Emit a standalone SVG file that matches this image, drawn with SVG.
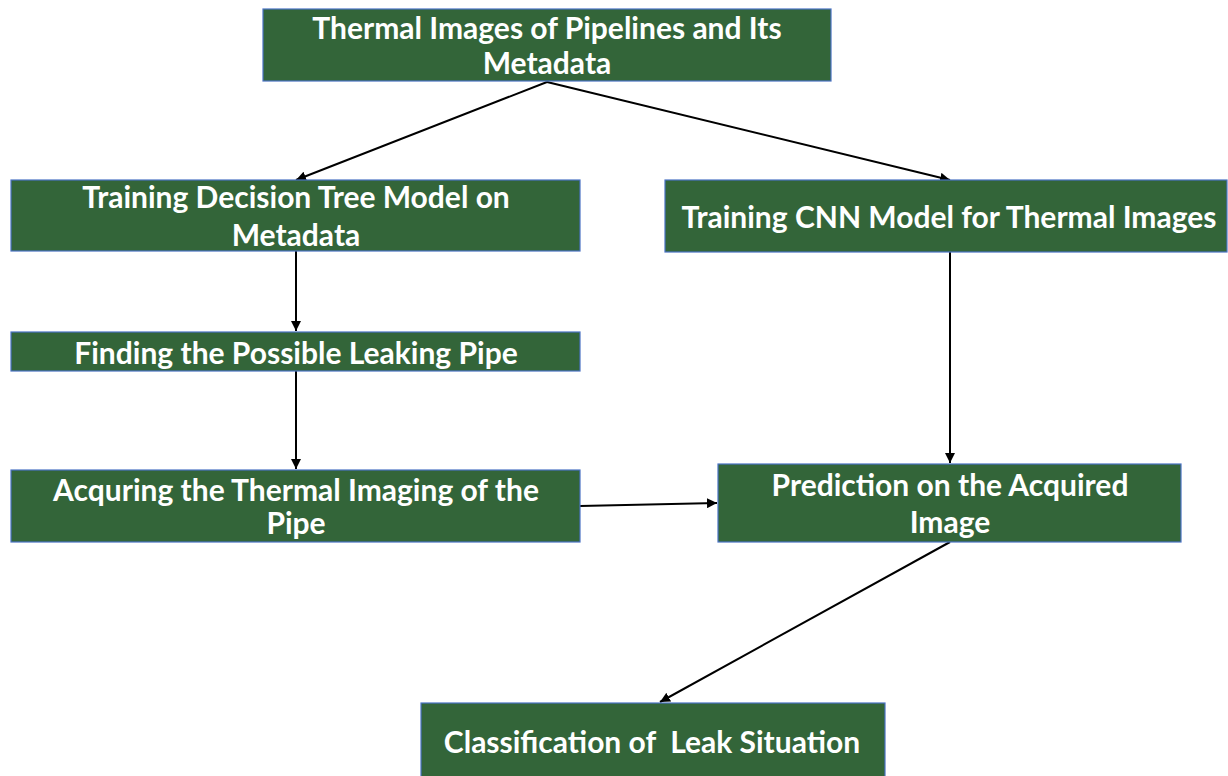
<svg xmlns="http://www.w3.org/2000/svg" width="1228" height="776" viewBox="0 0 1228 776">
<style>
.box{fill:#336539;stroke:#4a72c4;stroke-width:1.2}
.t{font-family:Lato,"Open Sans","Liberation Sans",sans-serif;font-weight:bold;font-size:30px;fill:#ffffff;text-anchor:middle}
.c{stroke:#000;stroke-width:2;fill:none;marker-end:url(#ah)}
</style>
<defs>
<marker id="ah" viewBox="0 0 10 10" refX="10" refY="5" markerWidth="5" markerHeight="5" orient="auto" markerUnits="strokeWidth">
<path d="M0,0 L10,5 L0,10 z" fill="#000"/>
</marker>
</defs>
<rect width="1228" height="776" fill="#fff"/>
<g id="connectors">
<line class="c" x1="547" y1="82" x2="296" y2="180"/>
<line class="c" x1="547" y1="82" x2="950" y2="180"/>
<line class="c" x1="296" y1="251" x2="296" y2="331"/>
<line class="c" x1="296" y1="371" x2="296" y2="469"/>
<line class="c" x1="580" y1="506" x2="717" y2="503"/>
<line class="c" x1="950" y1="252" x2="950" y2="463"/>
<line class="c" x1="950" y1="542" x2="660" y2="702"/>
</g>
<g id="n1"><rect class="box" x="263" y="9" width="568" height="72"/>
<text class="t" x="547" y="39">Thermal Images of Pipelines and Its</text>
<text class="t" x="547" y="74">Metadata</text></g>
<g id="n2"><rect class="box" x="11" y="180" width="569" height="71"/>
<text class="t" x="296" y="208">Training Decision Tree Model on</text>
<text class="t" x="296" y="246">Metadata</text></g>
<g id="n3"><rect class="box" x="665" y="180" width="562" height="72"/>
<text class="t" x="949" y="228">Training CNN Model for Thermal Images</text></g>
<g id="n4"><rect class="box" x="11" y="332" width="569" height="39"/>
<text class="t" x="296" y="364">Finding the Possible Leaking Pipe</text></g>
<g id="n5"><rect class="box" x="11" y="470" width="569" height="72"/>
<text class="t" x="296" y="501">Acquring the Thermal Imaging of the</text>
<text class="t" x="296" y="534">Pipe</text></g>
<g id="n6"><rect class="box" x="718" y="464" width="463" height="78"/>
<text class="t" x="950" y="496">Prediction on the Acquired</text>
<text class="t" x="950" y="533">Image</text></g>
<g id="n7"><rect class="box" x="421" y="703" width="464" height="74"/>
<text class="t" x="652" y="753" xml:space="preserve">Classification of  Leak Situation</text></g>
</svg>
